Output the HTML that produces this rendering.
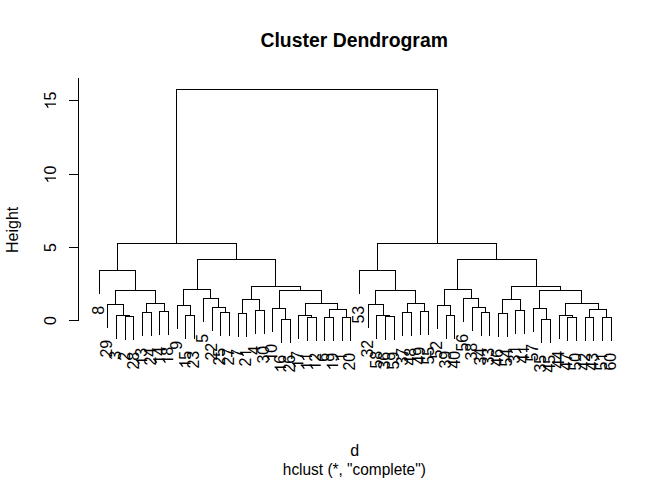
<!DOCTYPE html><html><head><meta charset="utf-8"><style>html,body{margin:0;padding:0;background:#fff}svg{display:block}text{font-family:"Liberation Sans",sans-serif;fill:#000}</style></head><body>
<svg width="672" height="480" viewBox="0 0 672 480">
<rect width="672" height="480" fill="#fff"/>
<path d="M99 270h1v24h-1zM107 304h1v24h-1zM116 315h1v24h-1zM125 316h1v24h-1zM133 316h1v24h-1zM125 316h9v1h-9zM129 315h1v2h-1zM116 315h14v1h-14zM123 304h1v12h-1zM107 304h17v1h-17zM115 290h1v15h-1zM142 312h1v24h-1zM151 312h1v24h-1zM142 312h10v1h-10zM146 303h1v10h-1zM159 311h1v24h-1zM168 311h1v24h-1zM159 311h10v1h-10zM164 303h1v9h-1zM146 303h19v1h-19zM155 290h1v14h-1zM115 290h41v1h-41zM135 270h1v21h-1zM99 270h37v1h-37zM117 243h1v28h-1zM177 305h1v24h-1zM185 315h1v24h-1zM194 315h1v24h-1zM185 315h10v1h-10zM190 305h1v11h-1zM177 305h14v1h-14zM183 289h1v17h-1zM203 298h1v24h-1zM212 307h1v24h-1zM220 312h1v24h-1zM229 312h1v24h-1zM220 312h10v1h-10zM225 307h1v6h-1zM212 307h14v1h-14zM218 298h1v10h-1zM203 298h16v1h-16zM210 289h1v10h-1zM183 289h28v1h-28zM197 259h1v31h-1zM238 313h1v24h-1zM246 313h1v24h-1zM238 313h9v1h-9zM242 299h1v15h-1zM255 310h1v24h-1zM264 310h1v24h-1zM255 310h10v1h-10zM259 299h1v12h-1zM242 299h18v1h-18zM251 286h1v14h-1zM272 308h1v24h-1zM281 319h1v24h-1zM290 319h1v24h-1zM281 319h10v1h-10zM285 308h1v12h-1zM272 308h14v1h-14zM279 290h1v19h-1zM298 315h1v24h-1zM307 317h1v24h-1zM316 317h1v24h-1zM307 317h10v1h-10zM311 315h1v3h-1zM298 315h14v1h-14zM305 303h1v13h-1zM324 317h1v24h-1zM333 317h1v24h-1zM324 317h10v1h-10zM329 309h1v9h-1zM342 317h1v24h-1zM350 317h1v24h-1zM342 317h9v1h-9zM346 309h1v9h-1zM329 309h18v1h-18zM337 303h1v7h-1zM305 303h33v1h-33zM321 290h1v14h-1zM279 290h43v1h-43zM300 286h1v5h-1zM251 286h50v1h-50zM275 259h1v28h-1zM197 259h79v1h-79zM236 243h1v17h-1zM117 243h120v1h-120zM176 89h1v155h-1zM359 270h1v24h-1zM368 304h1v24h-1zM376 315h1v24h-1zM385 316h1v24h-1zM394 316h1v24h-1zM385 316h10v1h-10zM389 315h1v2h-1zM376 315h14v1h-14zM383 304h1v12h-1zM368 304h16v1h-16zM375 290h1v15h-1zM402 312h1v24h-1zM411 312h1v24h-1zM402 312h10v1h-10zM407 303h1v10h-1zM420 311h1v24h-1zM428 311h1v24h-1zM420 311h9v1h-9zM424 303h1v9h-1zM407 303h18v1h-18zM415 290h1v14h-1zM375 290h41v1h-41zM395 270h1v21h-1zM359 270h37v1h-37zM377 243h1v28h-1zM437 305h1v24h-1zM446 315h1v24h-1zM454 315h1v24h-1zM446 315h9v1h-9zM450 305h1v11h-1zM437 305h14v1h-14zM444 289h1v17h-1zM463 298h1v24h-1zM472 307h1v24h-1zM481 312h1v24h-1zM489 312h1v24h-1zM481 312h9v1h-9zM485 307h1v6h-1zM472 307h14v1h-14zM478 298h1v10h-1zM463 298h16v1h-16zM471 289h1v10h-1zM444 289h28v1h-28zM457 259h1v31h-1zM498 313h1v24h-1zM507 313h1v24h-1zM498 313h10v1h-10zM502 299h1v15h-1zM515 310h1v24h-1zM524 310h1v24h-1zM515 310h10v1h-10zM520 299h1v12h-1zM502 299h19v1h-19zM511 286h1v14h-1zM533 308h1v24h-1zM541 319h1v24h-1zM550 319h1v24h-1zM541 319h10v1h-10zM546 308h1v12h-1zM533 308h14v1h-14zM539 290h1v19h-1zM559 315h1v24h-1zM567 317h1v24h-1zM576 317h1v24h-1zM567 317h10v1h-10zM572 315h1v3h-1zM559 315h14v1h-14zM565 303h1v13h-1zM585 317h1v24h-1zM593 317h1v24h-1zM585 317h9v1h-9zM589 309h1v9h-1zM602 317h1v24h-1zM611 317h1v24h-1zM602 317h10v1h-10zM606 309h1v9h-1zM589 309h18v1h-18zM598 303h1v7h-1zM565 303h34v1h-34zM581 290h1v14h-1zM539 290h43v1h-43zM560 286h1v5h-1zM511 286h50v1h-50zM536 259h1v28h-1zM457 259h80v1h-80zM496 243h1v17h-1zM377 243h120v1h-120zM437 89h1v155h-1zM176 89h262v1h-262zM78 78h1v243h-1zM69 320h10v1h-10zM69 247h10v1h-10zM69 174h10v1h-10zM69 100h10v1h-10z" fill="#000"/>
<g transform="translate(56.00 320.50) rotate(-90)"><text x="-4.449" y="0" font-size="16">0</text></g>
<g transform="translate(56.00 247.50) rotate(-90)"><text x="-4.449" y="0" font-size="16">5</text></g>
<g transform="translate(56.00 174.50) rotate(-90)"><path transform="translate(-8.898 0) scale(0.0078125 -0.0078125)" d="M763 0H583V1147Q518 1085 413 1023T223 930V1104Q373 1175 485 1276T644 1472H763Z"/><text x="0.000" y="0" font-size="16">0</text></g>
<g transform="translate(56.00 100.50) rotate(-90)"><path transform="translate(-8.898 0) scale(0.0078125 -0.0078125)" d="M763 0H583V1147Q518 1085 413 1023T223 930V1104Q373 1175 485 1276T644 1472H763Z"/><text x="0.000" y="0" font-size="16">5</text></g>
<text transform="translate(18 229.9) rotate(-90)" text-anchor="middle" font-size="16">Height</text>
<text x="354.2" y="46.8" text-anchor="middle" font-size="19.6" font-weight="bold" textLength="187.5" lengthAdjust="spacingAndGlyphs">Cluster Dendrogram</text>
<text x="354.8" y="456.2" text-anchor="middle" font-size="16">d</text>
<text x="354.3" y="475" text-anchor="middle" font-size="16" textLength="143" lengthAdjust="spacingAndGlyphs">hclust (*, &quot;complete&quot;)</text>
<g transform="translate(103.80 305.75) rotate(-90)"><text x="-8.898" y="0" font-size="16">8</text></g>
<g transform="translate(112.48 339.75) rotate(-90)"><text x="-17.797" y="0" font-size="16">2</text><text x="-8.898" y="0" font-size="16">9</text></g>
<g transform="translate(121.16 350.75) rotate(-90)"><text x="-8.898" y="0" font-size="16">3</text></g>
<g transform="translate(129.83 351.75) rotate(-90)"><text x="-8.898" y="0" font-size="16">2</text></g>
<g transform="translate(138.51 351.75) rotate(-90)"><text x="-17.797" y="0" font-size="16">2</text><text x="-8.898" y="0" font-size="16">8</text></g>
<g transform="translate(147.19 347.75) rotate(-90)"><path transform="translate(-17.797 0) scale(0.0078125 -0.0078125)" d="M763 0H583V1147Q518 1085 413 1023T223 930V1104Q373 1175 485 1276T644 1472H763Z"/><text x="-8.898" y="0" font-size="16">3</text></g>
<g transform="translate(155.87 347.75) rotate(-90)"><text x="-17.797" y="0" font-size="16">2</text><text x="-8.898" y="0" font-size="16">4</text></g>
<g transform="translate(164.55 346.75) rotate(-90)"><path transform="translate(-17.797 0) scale(0.0078125 -0.0078125)" d="M763 0H583V1147Q518 1085 413 1023T223 930V1104Q373 1175 485 1276T644 1472H763Z"/><text x="-8.898" y="0" font-size="16">4</text></g>
<g transform="translate(173.22 346.75) rotate(-90)"><path transform="translate(-17.797 0) scale(0.0078125 -0.0078125)" d="M763 0H583V1147Q518 1085 413 1023T223 930V1104Q373 1175 485 1276T644 1472H763Z"/><text x="-8.898" y="0" font-size="16">8</text></g>
<g transform="translate(181.90 340.75) rotate(-90)"><text x="-8.898" y="0" font-size="16">9</text></g>
<g transform="translate(190.58 350.75) rotate(-90)"><path transform="translate(-17.797 0) scale(0.0078125 -0.0078125)" d="M763 0H583V1147Q518 1085 413 1023T223 930V1104Q373 1175 485 1276T644 1472H763Z"/><text x="-8.898" y="0" font-size="16">5</text></g>
<g transform="translate(199.26 350.75) rotate(-90)"><text x="-17.797" y="0" font-size="16">2</text><text x="-8.898" y="0" font-size="16">3</text></g>
<g transform="translate(207.94 333.75) rotate(-90)"><text x="-8.898" y="0" font-size="16">5</text></g>
<g transform="translate(216.61 342.75) rotate(-90)"><text x="-17.797" y="0" font-size="16">2</text><text x="-8.898" y="0" font-size="16">2</text></g>
<g transform="translate(225.29 347.75) rotate(-90)"><text x="-17.797" y="0" font-size="16">2</text><text x="-8.898" y="0" font-size="16">5</text></g>
<g transform="translate(233.97 347.75) rotate(-90)"><text x="-17.797" y="0" font-size="16">2</text><text x="-8.898" y="0" font-size="16">7</text></g>
<g transform="translate(242.65 348.75) rotate(-90)"><text x="-8.898" y="0" font-size="16">7</text></g>
<g transform="translate(251.33 348.75) rotate(-90)"><path transform="translate(-8.898 0) scale(0.0078125 -0.0078125)" d="M763 0H583V1147Q518 1085 413 1023T223 930V1104Q373 1175 485 1276T644 1472H763Z"/><text x="-17.797" y="0" font-size="16">2</text></g>
<g transform="translate(260.00 345.75) rotate(-90)"><text x="-8.898" y="0" font-size="16">4</text></g>
<g transform="translate(268.68 345.75) rotate(-90)"><text x="-17.797" y="0" font-size="16">3</text><text x="-8.898" y="0" font-size="16">0</text></g>
<g transform="translate(277.36 343.75) rotate(-90)"><path transform="translate(-17.797 0) scale(0.0078125 -0.0078125)" d="M763 0H583V1147Q518 1085 413 1023T223 930V1104Q373 1175 485 1276T644 1472H763Z"/><text x="-8.898" y="0" font-size="16">0</text></g>
<g transform="translate(286.04 354.75) rotate(-90)"><path transform="translate(-17.797 0) scale(0.0078125 -0.0078125)" d="M763 0H583V1147Q518 1085 413 1023T223 930V1104Q373 1175 485 1276T644 1472H763Z"/><text x="-8.898" y="0" font-size="16">6</text></g>
<g transform="translate(294.72 354.75) rotate(-90)"><text x="-17.797" y="0" font-size="16">2</text><text x="-8.898" y="0" font-size="16">6</text></g>
<g transform="translate(303.39 350.75) rotate(-90)"><path transform="translate(-17.797 0) scale(0.0078125 -0.0078125)" d="M763 0H583V1147Q518 1085 413 1023T223 930V1104Q373 1175 485 1276T644 1472H763Z"/><text x="-8.898" y="0" font-size="16">7</text></g>
<g transform="translate(312.07 352.75) rotate(-90)"><path transform="translate(-17.797 0) scale(0.0078125 -0.0078125)" d="M763 0H583V1147Q518 1085 413 1023T223 930V1104Q373 1175 485 1276T644 1472H763Z"/><path transform="translate(-8.898 0) scale(0.0078125 -0.0078125)" d="M763 0H583V1147Q518 1085 413 1023T223 930V1104Q373 1175 485 1276T644 1472H763Z"/></g>
<g transform="translate(320.75 352.75) rotate(-90)"><path transform="translate(-17.797 0) scale(0.0078125 -0.0078125)" d="M763 0H583V1147Q518 1085 413 1023T223 930V1104Q373 1175 485 1276T644 1472H763Z"/><text x="-8.898" y="0" font-size="16">2</text></g>
<g transform="translate(329.43 352.75) rotate(-90)"><text x="-8.898" y="0" font-size="16">6</text></g>
<g transform="translate(338.11 352.75) rotate(-90)"><path transform="translate(-17.797 0) scale(0.0078125 -0.0078125)" d="M763 0H583V1147Q518 1085 413 1023T223 930V1104Q373 1175 485 1276T644 1472H763Z"/><text x="-8.898" y="0" font-size="16">9</text></g>
<g transform="translate(346.78 352.75) rotate(-90)"><path transform="translate(-8.898 0) scale(0.0078125 -0.0078125)" d="M763 0H583V1147Q518 1085 413 1023T223 930V1104Q373 1175 485 1276T644 1472H763Z"/></g>
<g transform="translate(355.46 352.75) rotate(-90)"><text x="-17.797" y="0" font-size="16">2</text><text x="-8.898" y="0" font-size="16">0</text></g>
<g transform="translate(364.14 305.75) rotate(-90)"><text x="-17.797" y="0" font-size="16">5</text><text x="-8.898" y="0" font-size="16">3</text></g>
<g transform="translate(372.82 339.75) rotate(-90)"><text x="-17.797" y="0" font-size="16">3</text><text x="-8.898" y="0" font-size="16">2</text></g>
<g transform="translate(381.50 350.75) rotate(-90)"><text x="-17.797" y="0" font-size="16">5</text><text x="-8.898" y="0" font-size="16">8</text></g>
<g transform="translate(390.17 351.75) rotate(-90)"><text x="-17.797" y="0" font-size="16">3</text><text x="-8.898" y="0" font-size="16">6</text></g>
<g transform="translate(398.85 351.75) rotate(-90)"><text x="-17.797" y="0" font-size="16">5</text><text x="-8.898" y="0" font-size="16">9</text></g>
<g transform="translate(407.53 347.75) rotate(-90)"><text x="-17.797" y="0" font-size="16">3</text><text x="-8.898" y="0" font-size="16">7</text></g>
<g transform="translate(416.21 347.75) rotate(-90)"><text x="-17.797" y="0" font-size="16">4</text><text x="-8.898" y="0" font-size="16">8</text></g>
<g transform="translate(424.89 346.75) rotate(-90)"><text x="-17.797" y="0" font-size="16">4</text><text x="-8.898" y="0" font-size="16">9</text></g>
<g transform="translate(433.56 346.75) rotate(-90)"><text x="-17.797" y="0" font-size="16">5</text><text x="-8.898" y="0" font-size="16">5</text></g>
<g transform="translate(442.24 340.75) rotate(-90)"><text x="-17.797" y="0" font-size="16">5</text><text x="-8.898" y="0" font-size="16">2</text></g>
<g transform="translate(450.92 350.75) rotate(-90)"><text x="-17.797" y="0" font-size="16">3</text><text x="-8.898" y="0" font-size="16">9</text></g>
<g transform="translate(459.60 350.75) rotate(-90)"><text x="-17.797" y="0" font-size="16">4</text><text x="-8.898" y="0" font-size="16">0</text></g>
<g transform="translate(468.28 333.75) rotate(-90)"><text x="-17.797" y="0" font-size="16">5</text><text x="-8.898" y="0" font-size="16">6</text></g>
<g transform="translate(476.95 342.75) rotate(-90)"><text x="-17.797" y="0" font-size="16">3</text><text x="-8.898" y="0" font-size="16">8</text></g>
<g transform="translate(485.63 347.75) rotate(-90)"><text x="-17.797" y="0" font-size="16">3</text><text x="-8.898" y="0" font-size="16">4</text></g>
<g transform="translate(494.31 347.75) rotate(-90)"><text x="-17.797" y="0" font-size="16">3</text><text x="-8.898" y="0" font-size="16">3</text></g>
<g transform="translate(502.99 348.75) rotate(-90)"><text x="-17.797" y="0" font-size="16">4</text><text x="-8.898" y="0" font-size="16">6</text></g>
<g transform="translate(511.67 348.75) rotate(-90)"><text x="-17.797" y="0" font-size="16">5</text><text x="-8.898" y="0" font-size="16">4</text></g>
<g transform="translate(520.34 345.75) rotate(-90)"><path transform="translate(-8.898 0) scale(0.0078125 -0.0078125)" d="M763 0H583V1147Q518 1085 413 1023T223 930V1104Q373 1175 485 1276T644 1472H763Z"/><text x="-17.797" y="0" font-size="16">3</text></g>
<g transform="translate(529.02 345.75) rotate(-90)"><path transform="translate(-8.898 0) scale(0.0078125 -0.0078125)" d="M763 0H583V1147Q518 1085 413 1023T223 930V1104Q373 1175 485 1276T644 1472H763Z"/><text x="-17.797" y="0" font-size="16">4</text></g>
<g transform="translate(537.70 343.75) rotate(-90)"><text x="-17.797" y="0" font-size="16">5</text><text x="-8.898" y="0" font-size="16">7</text></g>
<g transform="translate(546.38 354.75) rotate(-90)"><text x="-17.797" y="0" font-size="16">3</text><text x="-8.898" y="0" font-size="16">5</text></g>
<g transform="translate(555.06 354.75) rotate(-90)"><text x="-17.797" y="0" font-size="16">4</text><text x="-8.898" y="0" font-size="16">5</text></g>
<g transform="translate(563.73 350.75) rotate(-90)"><text x="-17.797" y="0" font-size="16">4</text><text x="-8.898" y="0" font-size="16">4</text></g>
<g transform="translate(572.41 352.75) rotate(-90)"><text x="-17.797" y="0" font-size="16">4</text><text x="-8.898" y="0" font-size="16">7</text></g>
<g transform="translate(581.09 352.75) rotate(-90)"><text x="-17.797" y="0" font-size="16">5</text><text x="-8.898" y="0" font-size="16">0</text></g>
<g transform="translate(589.77 352.75) rotate(-90)"><text x="-17.797" y="0" font-size="16">4</text><text x="-8.898" y="0" font-size="16">2</text></g>
<g transform="translate(598.45 352.75) rotate(-90)"><text x="-17.797" y="0" font-size="16">4</text><text x="-8.898" y="0" font-size="16">3</text></g>
<g transform="translate(607.12 352.75) rotate(-90)"><path transform="translate(-8.898 0) scale(0.0078125 -0.0078125)" d="M763 0H583V1147Q518 1085 413 1023T223 930V1104Q373 1175 485 1276T644 1472H763Z"/><text x="-17.797" y="0" font-size="16">5</text></g>
<g transform="translate(615.80 352.75) rotate(-90)"><text x="-17.797" y="0" font-size="16">6</text><text x="-8.898" y="0" font-size="16">0</text></g>
</svg></body></html>
